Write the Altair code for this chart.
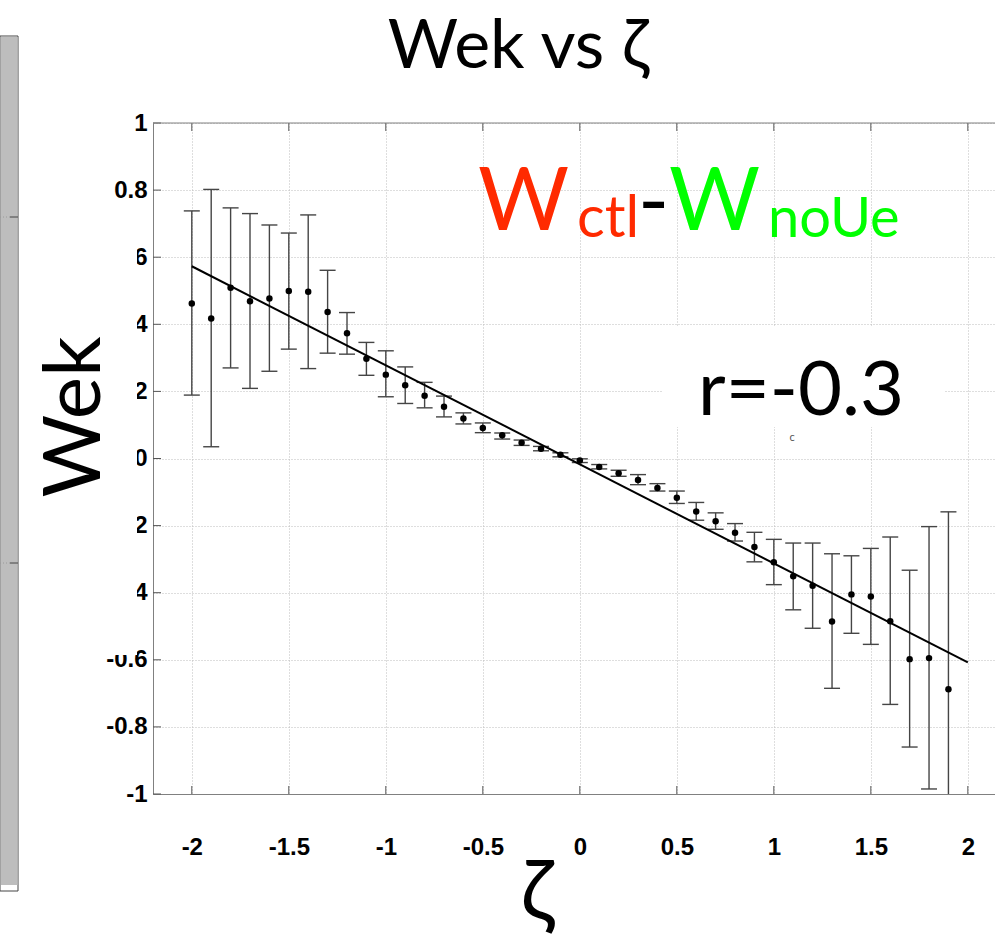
import altair as alt
import pandas as pd

# Binned Ekman pumping difference (W_ctl - W_noUe) against vorticity zeta
zeta = [-2.0, -1.9, -1.8, -1.7, -1.6, -1.5, -1.4, -1.3, -1.2, -1.1,
        -1.0, -0.9, -0.8, -0.7, -0.6, -0.5, -0.4, -0.3, -0.2, -0.1,
        0.0, 0.1, 0.2, 0.3, 0.4, 0.5, 0.6, 0.7, 0.8, 0.9,
        1.0, 1.1, 1.2, 1.3, 1.4, 1.5, 1.6, 1.7, 1.8, 1.9]
wek_mean = [0.462, 0.417, 0.509, 0.469, 0.477, 0.499, 0.497, 0.437, 0.373, 0.297,
            0.250, 0.218, 0.187, 0.154, 0.119, 0.091, 0.069, 0.047, 0.029, 0.011,
            -0.006, -0.025, -0.044, -0.064, -0.088, -0.117, -0.158, -0.187, -0.221, -0.264,
            -0.309, -0.351, -0.379, -0.486, -0.405, -0.411, -0.485, -0.598, -0.595, -0.688]
wek_upper = [0.738, 0.802, 0.747, 0.730, 0.696, 0.672, 0.726, 0.561, 0.435, 0.346,
             0.321, 0.273, 0.227, 0.186, 0.136, 0.106, 0.076, 0.055, 0.036, 0.017,
             -0.001, -0.018, -0.035, -0.048, -0.075, -0.097, -0.131, -0.162, -0.194, -0.220,
             -0.241, -0.252, -0.252, -0.284, -0.290, -0.268, -0.234, -0.333, -0.203, -0.159]
wek_lower = [0.189, 0.035, 0.270, 0.209, 0.260, 0.326, 0.268, 0.314, 0.311, 0.248,
             0.184, 0.164, 0.151, 0.124, 0.103, 0.077, 0.058, 0.039, 0.023, 0.005,
             -0.012, -0.031, -0.053, -0.078, -0.097, -0.134, -0.184, -0.211, -0.246, -0.308,
             -0.376, -0.451, -0.506, -0.685, -0.521, -0.554, -0.733, -0.860, -0.985, -1.120]

# Least-squares fit line end points
fit_zeta = [-2.0, 2.0]
fit_wek = [0.573, -0.608]

x_ticks = [-2, -1.5, -1, -0.5, 0, 0.5, 1, 1.5, 2]
y_ticks = [-1, -0.8, -0.6, -0.4, -0.2, 0, 0.2, 0.4, 0.6, 0.8, 1]

W, H = 842, 671
PAD_L, PAD_T = 153, 123

df = pd.DataFrame({"zeta": zeta, "mean": wek_mean, "upper": wek_upper, "lower": wek_lower})
fit = pd.DataFrame({"zeta": fit_zeta, "wek": fit_wek})
xt = pd.DataFrame({"t": x_ticks})
yt = pd.DataFrame({"t": y_ticks})
one = pd.DataFrame({"k": [0]})

xs = alt.Scale(domain=[-2.2, 2.14], nice=False, zero=False)
ys = alt.Scale(domain=[-1, 1], nice=False, zero=False)

LABEL_FONT = "Liberation Sans"
TEXT_FONT = "Lato"

x_axis = alt.Axis(values=x_ticks, labelExpr="'' + datum.value", grid=True,
                  gridDash=[1, 2], gridColor="#bdbdbd", gridWidth=1,
                  ticks=False, domainColor="#808080", domainWidth=1,
                  labelFont=LABEL_FONT, labelFontWeight="bold", labelFontSize=24,
                  labelColor="black", labelPadding=41, labelFlush=False,
                  labelOverlap=False, title=None)
y_axis = alt.Axis(values=y_ticks, labelExpr="'' + datum.value", grid=True,
                  gridDash=[1, 2], gridColor="#bdbdbd", gridWidth=1,
                  ticks=False, domainColor="#808080", domainWidth=1,
                  labelFont=LABEL_FONT, labelFontWeight="bold", labelFontSize=24,
                  labelColor="black", labelPadding=6, labelFlush=False,
                  labelOverlap=False, title=None)


def X(field):
    return alt.X(field, type="quantitative", scale=xs, axis=x_axis)


def Y(field):
    return alt.Y(field, type="quantitative", scale=ys, axis=y_axis)


def text(label, x, y, size, color="black", angle=0, align="left", font=TEXT_FONT):
    kw = dict(text=label, fontSize=size, color=color, align=align,
              baseline="alphabetic", font=font)
    if angle:
        kw["angle"] = angle
    return alt.Chart(one).mark_text(**kw).encode(x=alt.value(x), y=alt.value(y))


def box(x1, x2, y1, y2, fill, stroke=None):
    kw = dict(fill=fill)
    if stroke:
        kw.update(stroke=stroke, strokeWidth=1)
    return alt.Chart(one).mark_rect(**kw).encode(
        x=alt.value(x1), x2=alt.value(x2), y=alt.value(y1), y2=alt.value(y2))


# neighbouring panel on the far left
side_panel = alt.layer(
    box(-153, -135, -87, 768, "white", "#444444"),
    box(-152, -135.5, -86, 762, "#bdbdbd"),
    alt.Chart(pd.DataFrame({"yy": [94, 440]})).mark_rule(color="#9a9a9a", strokeDash=[1, 2]).encode(
        x=alt.value(-153), x2=alt.value(-143), y=alt.Y("yy:Q", scale=None)),
    alt.Chart(pd.DataFrame({"yy": [94, 440]})).mark_rule(color="#444444").encode(
        x=alt.value(-143), x2=alt.value(-135), y=alt.Y("yy:Q", scale=None)),
)

# white backgrounds behind the axis label and the r annotation
label_bg = box(-128, -16, 107, 532, "white")
r_bg = box(510, 791, 204, 304, "white")

# inward ticks on the box
tick_color = "#555555"
ticks_bottom = alt.Chart(xt).mark_rule(color=tick_color).encode(
    x=X("t"), y=alt.value(H), y2=alt.value(H - 8))
ticks_top = alt.Chart(xt).mark_rule(color=tick_color).encode(
    x=X("t"), y=alt.value(0), y2=alt.value(8))
ticks_left = alt.Chart(yt).mark_rule(color=tick_color).encode(
    y=Y("t"), x=alt.value(0), x2=alt.value(8))
top_border = alt.Chart(one).mark_rule(color="#808080").encode(
    x=alt.value(0), x2=alt.value(W), y=alt.value(0))

bar_color = "#454545"
base = alt.Chart(df)
err = base.mark_rule(color=bar_color, strokeWidth=1.4, clip=True).encode(
    x=X("zeta"), y=Y("lower"), y2="upper:Q")
cap_hi = base.mark_rule(color=bar_color, strokeWidth=1.4, xOffset=-8, x2Offset=8, clip=True).encode(
    x=X("zeta"), x2="zeta:Q", y=Y("upper"))
cap_lo = base.mark_rule(color=bar_color, strokeWidth=1.4, xOffset=-8, x2Offset=8, clip=True).encode(
    x=X("zeta"), x2="zeta:Q", y=Y("lower"))
dots = base.mark_circle(size=42, color="black", opacity=1).encode(x=X("zeta"), y=Y("mean"))
fit_line = alt.Chart(fit).mark_line(color="black", strokeWidth=2).encode(x=X("zeta"), y=Y("wek"))

labels = alt.layer(
    text("Wek vs ζ", 365, -55, 68, align="center"),
    text("Wek", -53, 294, 80, angle=270, align="center"),
    text("ζ", 384, 797, 84, align="center"),
    text("r=-0.3", 648, 292, 76, align="center"),
    text("c", 639, 318, 11, color="#555555", align="center"),
    text("W", 325, 107, 88, color="#ff2a00"),
    text("ctl", 424, 114, 58, color="#ff2a00"),
    text("-", 485, 107, 84),
    text("W", 516, 107, 88, color="#00ff00"),
    text("noUe", 615, 114, 56, color="#00ff00"),
)

chart = alt.layer(
    side_panel, label_bg, r_bg,
    ticks_bottom, ticks_top, ticks_left, top_border,
    err, cap_hi, cap_lo, fit_line, dots, labels,
).properties(
    width=W, height=H,
    autosize=alt.AutoSizeParams(type="none"),
    padding={"left": PAD_L, "top": PAD_T, "right": 0, "bottom": 938 - PAD_T - H},
    background="white",
).configure_view(stroke="transparent")

chart.save("out.html", embed_options={"renderer": "svg", "actions": False})
